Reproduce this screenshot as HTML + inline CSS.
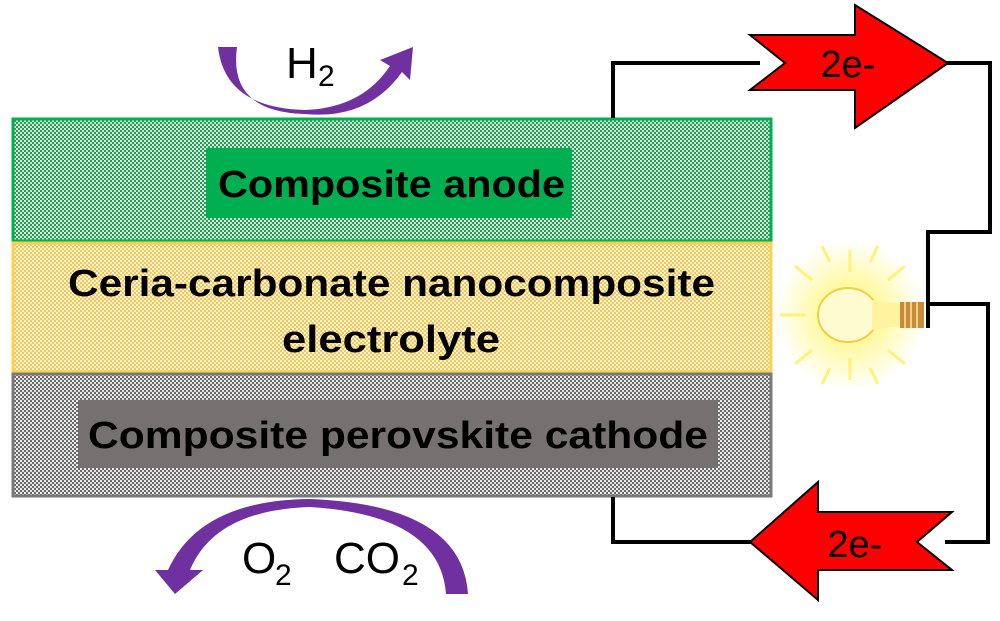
<!DOCTYPE html>
<html><head><style>
body{margin:0;background:#fff;}
svg{display:block}
</style></head><body>
<svg width="1000" height="621" viewBox="0 0 1000 621" xmlns="http://www.w3.org/2000/svg" font-family="'Liberation Sans',sans-serif">
<defs>
<pattern id="pg" width="4" height="4" patternUnits="userSpaceOnUse"><rect width="4" height="4" fill="#2a9a5a"/><rect x="0" y="0" width="2" height="2" fill="#d8f0e0"/><rect x="2" y="2" width="2" height="2" fill="#c8e8d0"/></pattern>
<pattern id="py" width="4" height="4" patternUnits="userSpaceOnUse"><rect width="4" height="4" fill="#f3c85a"/><rect x="0" y="0" width="2" height="2" fill="#fff6dc"/><rect x="2" y="2" width="2" height="2" fill="#fff0c8"/></pattern>
<pattern id="pk" width="4" height="4" patternUnits="userSpaceOnUse"><rect width="4" height="4" fill="#6a6a6a"/><rect x="0" y="0" width="2" height="2" fill="#eeeeee"/><rect x="2" y="2" width="2" height="2" fill="#e4e4e4"/></pattern>
<radialGradient id="glow"><stop offset="0" stop-color="#fff" /><stop offset="0.4" stop-color="#fff9a0"/><stop offset="1" stop-color="#fff9a0" stop-opacity="0"/></radialGradient>
</defs>
<rect x="13" y="119" width="758" height="122" fill="url(#pg)" stroke="#00b050" stroke-width="3"/>
<rect x="13" y="243" width="758" height="129" fill="url(#py)" stroke="#ffd050" stroke-width="3"/>
<rect x="13" y="374" width="758" height="122" fill="url(#pk)" stroke="#7a7a7a" stroke-width="3"/>
<rect x="206" y="148" width="366" height="70" fill="#00b050"/>
<rect x="78" y="400" width="640" height="68" fill="#757171"/>
<g font-weight="bold" font-size="38" fill="#000" lengthAdjust="spacingAndGlyphs">
<text x="218" y="197" textLength="347" lengthAdjust="spacingAndGlyphs">Composite anode</text>
<text x="68" y="296" textLength="647" lengthAdjust="spacingAndGlyphs">Ceria-carbonate nanocomposite</text>
<text x="282" y="352" textLength="218" lengthAdjust="spacingAndGlyphs">electrolyte</text>
<text x="88" y="448" textLength="620" lengthAdjust="spacingAndGlyphs">Composite perovskite cathode</text>
</g>
<g fill="none" stroke="#000" stroke-width="4">
<polyline points="613,118 613,63 760,63"/>
<polyline points="946,63 990,63 990,232 928,232 928,303"/>
<polyline points="928,328 928,304 988,304 988,542 945,542"/>
<polyline points="613,497 613,542 760,542"/>
</g>
<polygon points="750,35 855,35 855,5 948,63 855,128 855,90 750,90 785,63" fill="#f00" stroke="#000" stroke-width="2"/>
<polygon points="952,512 818,512 818,482 750,542 818,600 818,570 952,570 917,542" fill="#f00" stroke="#000" stroke-width="2"/>
<text x="848" y="77" font-size="38" text-anchor="middle">2e-</text>
<text x="855" y="557" font-size="38" text-anchor="middle">2e-</text>
<circle cx="850" cy="315" r="75" fill="url(#glow)"/>
<g stroke="#fff27a" stroke-width="3">
<line x1="850" y1="250" x2="850" y2="272"/><line x1="850" y1="358" x2="850" y2="380"/>
<line x1="780" y1="315" x2="805" y2="315"/><line x1="812" y1="280" x2="795" y2="266"/>
<line x1="888" y1="280" x2="905" y2="266"/><line x1="812" y1="350" x2="795" y2="364"/>
<line x1="888" y1="350" x2="905" y2="364"/><line x1="830" y1="262" x2="822" y2="246"/>
<line x1="870" y1="262" x2="878" y2="246"/><line x1="830" y1="368" x2="822" y2="384"/><line x1="870" y1="368" x2="878" y2="384"/>
</g>
<ellipse cx="848" cy="315" rx="30" ry="27" fill="#fffbd0" stroke="#f0d040" stroke-width="2"/>
<path d="M872,300 L900,304 L900,326 L872,330 Z" fill="#fff3a0"/>
<rect x="900" y="302" width="24" height="26" fill="#c98a3a"/>
<g stroke="#f3d08a" stroke-width="2"><line x1="905" y1="302" x2="905" y2="328"/><line x1="911" y1="302" x2="911" y2="328"/><line x1="917" y1="302" x2="917" y2="328"/></g>
<path d="M218,47 Q225,108 305,110 Q362,108 390,66 L380,60 L413,47 L410,80 L402,72 Q368,120 305,114 Q228,112 237,47 Z" fill="#7030a0"/>
<text x="286" y="78" font-size="44">H</text><text x="318" y="86" font-size="30">2</text>
<path d="M468,594 L446,594 Q440,515 310,507 Q215,510 190,570 L203,570 L175,594 L155,570 L168,570 Q200,500 310,499 Q462,505 468,594 Z" fill="#7030a0"/>
<text x="242" y="573" font-size="44">O</text><text x="275" y="585" font-size="30">2</text>
<text x="334" y="573" font-size="44">CO</text><text x="402" y="585" font-size="30">2</text>
</svg>
</body></html>
